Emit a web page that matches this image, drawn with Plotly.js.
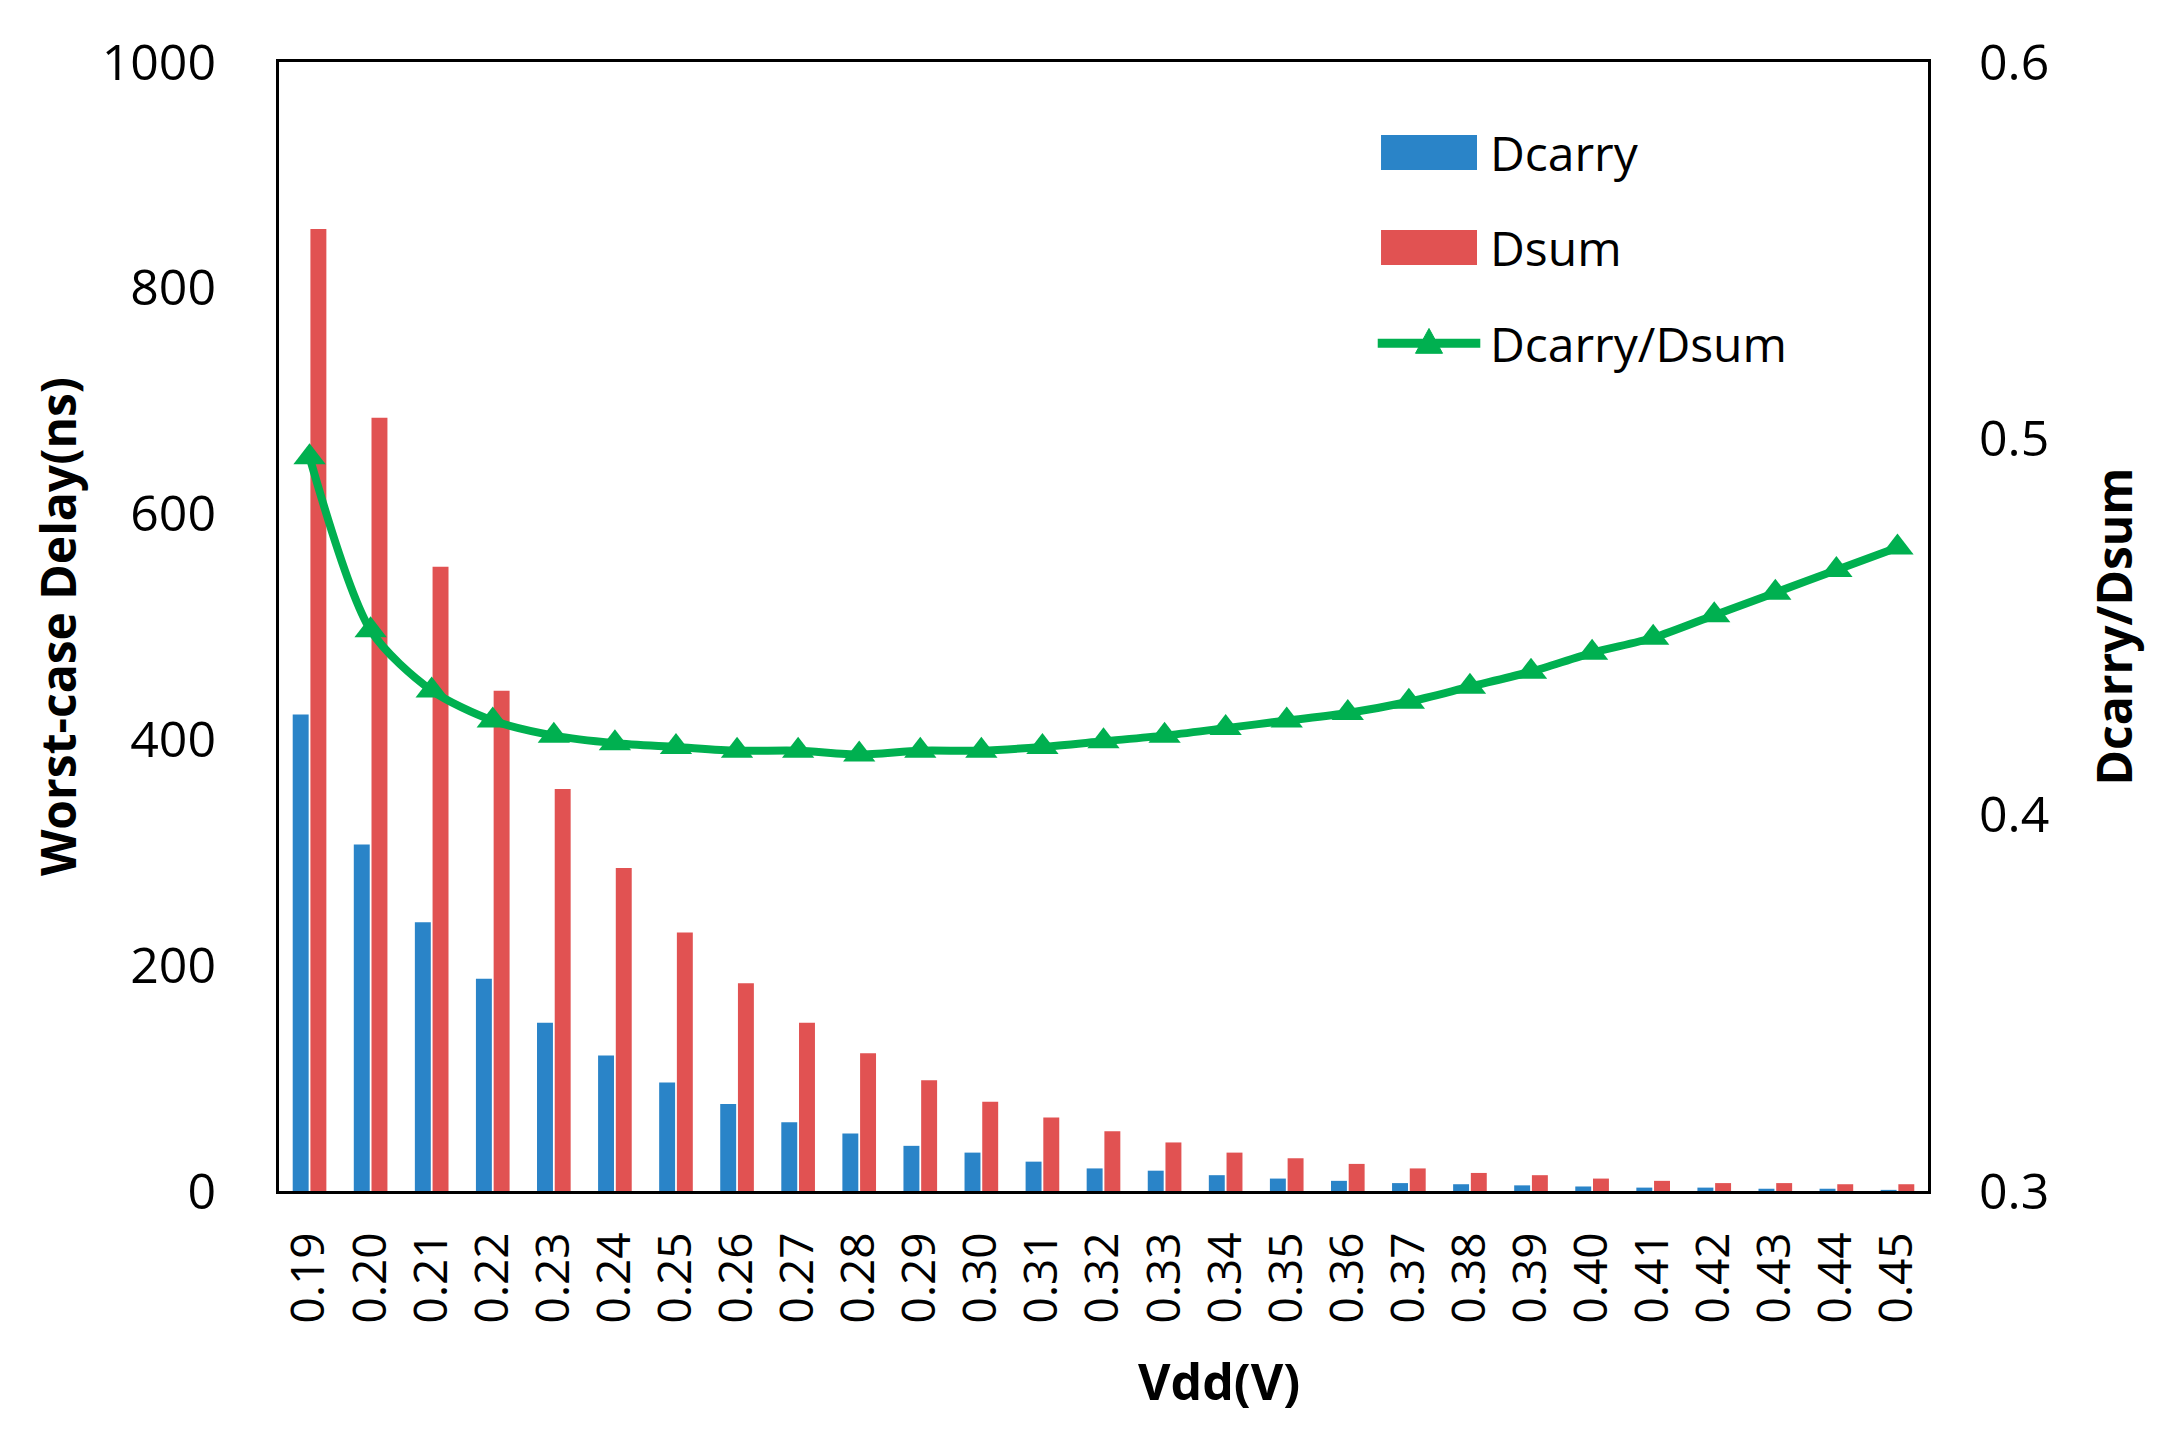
<!DOCTYPE html>
<html>
<head>
<meta charset="utf-8">
<script src="https://cdn.plot.ly/plotly-3.0.1.min.js"></script>
<style>
  html, body { margin: 0; padding: 0; background: #fff; }
  #chart { width: 2174px; height: 1450px; }
</style>
</head>
<body>
<div id="chart"></div>
<script>
// supply voltage categories
var vdd = ['0.19', '0.20', '0.21', '0.22', '0.23', '0.24', '0.25', '0.26', '0.27',
           '0.28', '0.29', '0.30', '0.31', '0.32', '0.33', '0.34', '0.35', '0.36',
           '0.37', '0.38', '0.39', '0.40', '0.41', '0.42', '0.43', '0.44', '0.45'];

// worst-case delays in ns
var dcarry = [422, 307, 238, 188, 149, 120, 96, 77, 61, 51, 40, 34, 26, 20, 18,
              14, 11, 9, 7, 6, 5, 4, 3, 3, 2, 2, 1];
var dsum = [852, 685, 553, 443, 356, 286, 229, 184, 149, 122, 98, 79, 65, 53, 43,
            34, 29, 24, 20, 16, 14, 11, 9, 7, 7, 6, 6];

// ratio on the right axis
var ratio = [0.495, 0.449, 0.433, 0.425, 0.421, 0.419, 0.418, 0.417, 0.417, 0.416,
             0.417, 0.417, 0.418, 0.4195, 0.421, 0.423, 0.425, 0.427, 0.430, 0.434,
             0.438, 0.443, 0.447, 0.453, 0.459, 0.465, 0.471];

var blue = '#2a84c8';
var red = '#e15252';
var green = '#00b050';
var fontName = 'Open Sans, Noto Sans, sans-serif';

var plotlyData = [
    {
        x: vdd,
        y: dcarry,
        type: 'bar',
        name: 'Dcarry',
        marker: { color: blue }
    },
    {
        x: vdd,
        y: dsum,
        type: 'bar',
        name: 'Dsum',
        marker: { color: red }
    },
    {
        x: vdd,
        y: ratio,
        type: 'scatter',
        mode: 'lines+markers',
        name: 'Dcarry/Dsum',
        yaxis: 'y2',
        line: { color: green, width: 8, shape: 'spline', smoothing: 0.8 },
        marker: { symbol: 'triangle-up', size: 28, color: green }
    }
];

// legend drawn by hand so the swatches get the wide Excel look
var legX0 = 0.6683, legX1 = 0.7265, legText = 0.733;
var rowY = [0.9199, 0.8358, 0.7509];
var swatchH = 0.0155;

var plotlyLayout = {
    width: 2174,
    height: 1450,
    margin: { l: 279, r: 246, t: 62, b: 259 },
    paper_bgcolor: '#ffffff',
    plot_bgcolor: '#ffffff',
    font: { family: fontName, color: '#000000', size: 48 },
    showlegend: false,
    barmode: 'group',
    bargap: 0.42,
    bargroupgap: 0.1,
    xaxis: {
        type: 'category',
        range: [-0.5, vdd.length - 0.5],
        tickangle: -90,
        tickfont: { size: 46 },
        ticks: '',
        ticklabelstandoff: 20,
        showline: true,
        linecolor: '#000000',
        linewidth: 3,
        mirror: true,
        showgrid: false,
        zeroline: false
    },
    yaxis: {
        range: [0, 1000],
        dtick: 200,
        tickfont: { size: 50 },
        ticks: '',
        ticklabelstandoff: 50,
        showline: true,
        linecolor: '#000000',
        linewidth: 3,
        mirror: true,
        showgrid: false,
        zeroline: false,
        title: { text: 'Worst-case Delay(ns)', font: { size: 48, weight: 'bold' }, standoff: 10 }
    },
    yaxis2: {
        overlaying: 'y',
        side: 'right',
        range: [0.3, 0.6],
        dtick: 0.1,
        tickformat: '.1f',
        tickfont: { size: 50 },
        ticks: '',
        ticklabelstandoff: 50,
        showline: false,
        showgrid: false,
        zeroline: false,
        title: { text: 'Dcarry/Dsum', font: { size: 48, weight: 'bold' }, standoff: 50 }
    },
    shapes: [
        { type: 'rect', xref: 'paper', yref: 'paper', x0: legX0, x1: legX1,
          y0: rowY[0] - swatchH, y1: rowY[0] + swatchH, fillcolor: blue, line: { width: 0 } },
        { type: 'rect', xref: 'paper', yref: 'paper', x0: legX0, x1: legX1,
          y0: rowY[1] - swatchH, y1: rowY[1] + swatchH, fillcolor: red, line: { width: 0 } },
        { type: 'line', xref: 'paper', yref: 'paper', x0: legX0 - 0.002, x1: legX1 + 0.002,
          y0: rowY[2], y1: rowY[2], line: { color: green, width: 9 } },
        { type: 'path', xref: 'paper', yref: 'paper',
          path: 'M0.6892,0.7420 L0.7056,0.7420 L0.6974,0.7640 Z',
          fillcolor: green, line: { color: green, width: 1 } }
    ],
    annotations: [
        { xref: 'paper', yref: 'paper', x: legText, y: rowY[0], text: 'Dcarry',
          showarrow: false, xanchor: 'left', yanchor: 'middle', font: { size: 48 } },
        { xref: 'paper', yref: 'paper', x: legText, y: rowY[1], text: 'Dsum',
          showarrow: false, xanchor: 'left', yanchor: 'middle', font: { size: 48 } },
        { xref: 'paper', yref: 'paper', x: legText, y: rowY[2], text: 'Dcarry/Dsum',
          showarrow: false, xanchor: 'left', yanchor: 'middle', font: { size: 48 } },
        // x axis title sits right of centre in the original
        { xref: 'paper', yref: 'paper', x: 0.57, y: -0.168, text: '<b>Vdd(V)</b>',
          showarrow: false, xanchor: 'center', yanchor: 'middle', font: { size: 50 } }
    ]
};

var plotlyConfig = {
    displayModeBar: false,
    staticPlot: true
};

Plotly.newPlot('chart', plotlyData, plotlyLayout, plotlyConfig);
</script>
</body>
</html>
